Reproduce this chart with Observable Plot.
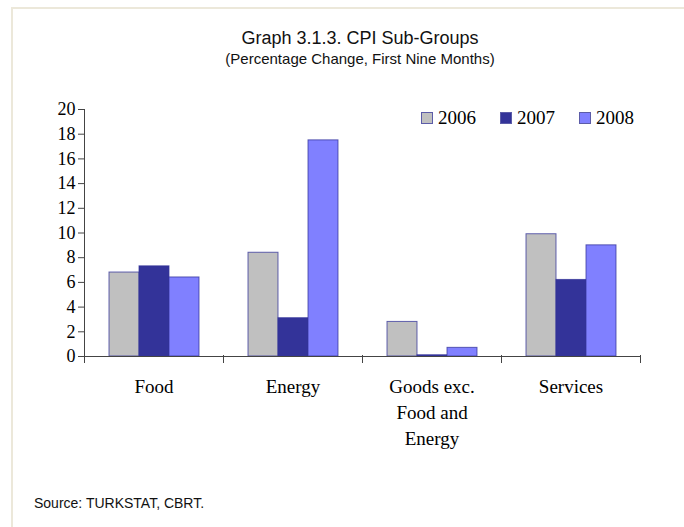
<!DOCTYPE html>
<html>
<head>
<meta charset="utf-8">
<script src="https://cdn.jsdelivr.net/npm/d3@7"></script>
<script src="https://cdn.jsdelivr.net/npm/@observablehq/plot@0.6"></script>
<style>
  html, body { margin: 0; padding: 0; background: #fff; }
  #wrap { position: relative; width: 684px; height: 527px; overflow: hidden; background: #fff; }
  .bt { position: absolute; left: 11px; top: 7px; width: 673px; height: 2px; background: #ece8da; }
  .bl { position: absolute; left: 11px; top: 7px; width: 2px; height: 520px; background: #ece8da; }
  .title { position: absolute; left: 0; width: 720px; text-align: center; color: #111;
           font-family: "Liberation Sans Narrow", "Arial Narrow", "Liberation Sans", sans-serif; }
  #t1 { top: 28px; font-size: 18px; }
  #t2 { top: 50px; font-size: 15px; }
  #src { position: absolute; left: 34px; top: 495px; font-size: 14px; color: #111;
         font-family: "Liberation Sans Narrow", "Arial Narrow", "Liberation Sans", sans-serif; }
  #chart { position: absolute; left: 0; top: 0; }
  #legend { position: absolute; left: 421px; top: 107px; display: flex; align-items: center;
            font-family: 'Liberation Serif', serif; font-size: 19px; color: #000; }
  #legend .item { display: flex; align-items: center; margin-right: 24px; }
  #legend .sw { width: 10px; height: 10px; border: 1px solid #5c5ca8; margin-right: 5px; }
  #legend span { font-family: 'Liberation Serif', serif; }
</style>
</head>
<body>
<div id="wrap">
  <div class="bt"></div>
  <div class="bl"></div>
  <div id="chart"></div>
  <div class="title" id="t1">Graph 3.1.3. CPI Sub-Groups</div>
  <div class="title" id="t2">(Percentage Change, First Nine Months)</div>
  <div id="legend"></div>
  <div id="src">Source: TURKSTAT, CBRT.</div>
</div>
<script>
const categories = ["Food", "Energy", "Goods exc. Food and Energy", "Services"];
const categoryLabels = ["Food", "Energy", "Goods exc.\nFood and\nEnergy", "Services"];
const years = ["2006", "2007", "2008"];
const colors = ["#c0c0c0", "#333399", "#8080ff"];
const values2006 = [6.8, 8.4, 2.8, 9.9];
const values2007 = [7.3, 3.1, 0.1, 6.2];
const values2008 = [6.4, 17.5, 0.7, 9.0];
const yTicks = [0, 2, 4, 6, 8, 10, 12, 14, 16, 18, 20];

const series = [values2006, values2007, values2008];
const data = [];
categories.forEach((c, i) => {
  years.forEach((y, j) => data.push({category: c, year: y, value: series[j][i]}));
});
const labelOf = new Map(categories.map((c, i) => [c, categoryLabels[i]]));

const chart = Plot.plot({
  width: 684,
  height: 527,
  marginTop: 109,
  marginBottom: 171,
  marginLeft: 82,
  marginRight: 43,
  style: {fontFamily: "'Liberation Serif', 'Times New Roman', serif", fontSize: "18px", color: "#000", background: "transparent"},
  fx: {domain: categories, padding: 0, label: null},
  x: {domain: years, paddingInner: 0, paddingOuter: 0.75, axis: null},
  y: {domain: [0, 20], label: null},
  color: {domain: years, range: colors},
  marks: [
    Plot.barY(data, {fx: "category", x: "year", y: "value", fill: "year", stroke: "#333399", strokeOpacity: 0.75, strokeWidth: 1}),
    Plot.ruleY([0], {stroke: "#444", strokeWidth: 1}),
    Plot.frame({anchor: "left", facetAnchor: "left", stroke: "#444"}),
    Plot.frame({anchor: "left", insetTop: 246, insetBottom: -6, stroke: "#444"}),
    Plot.frame({anchor: "right", facetAnchor: "right", insetTop: 246, insetBottom: -6, stroke: "#444"}),
    Plot.axisY({ticks: yTicks, tickSize: 6, tickPadding: 3, fontSize: 18, stroke: "#444", label: null}),
    Plot.axisFx({anchor: "bottom", tickSize: 0, tickPadding: 18, fontSize: 19, lineHeight: 1.37, tickFormat: d => labelOf.get(d), label: null})
  ]
});
document.getElementById("chart").appendChild(chart);

const legend = document.getElementById("legend");
years.forEach((y, i) => {
  const item = document.createElement("div");
  item.className = "item";
  const sw = document.createElement("div");
  sw.className = "sw";
  sw.style.background = colors[i];
  const tx = document.createElement("span");
  tx.textContent = y;
  item.appendChild(sw);
  item.appendChild(tx);
  legend.appendChild(item);
});
</script>
</body>
</html>
